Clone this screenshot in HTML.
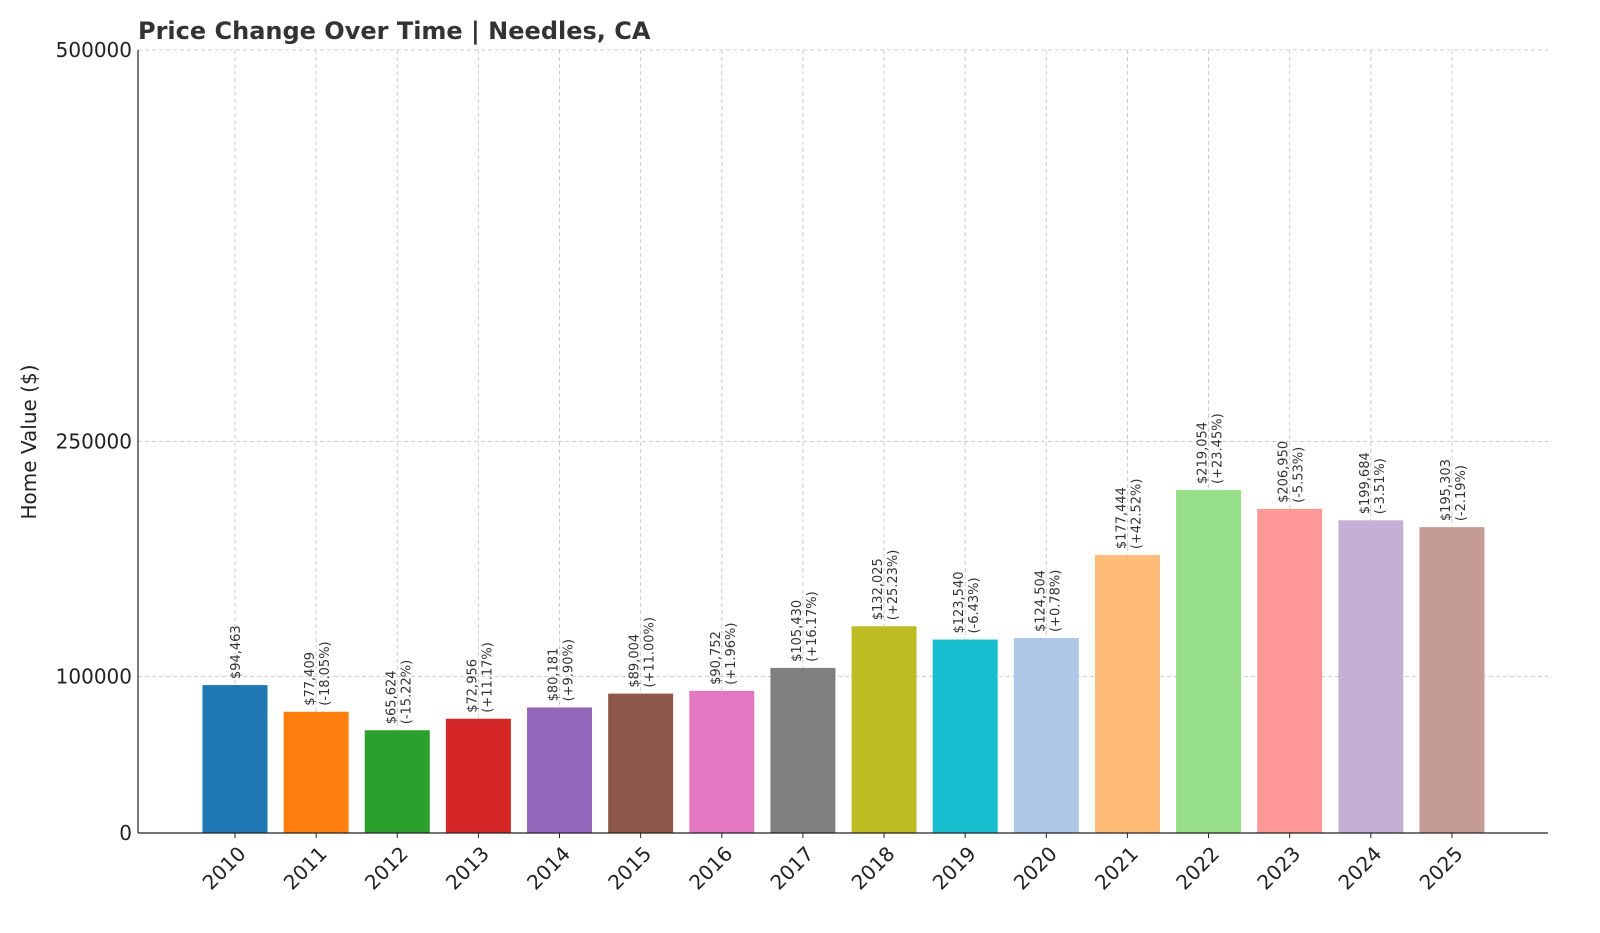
<!DOCTYPE html>
<html><head><meta charset="utf-8"><style>
body{margin:0;background:#fff;}
svg{display:block;font-family:"DejaVu Sans","Liberation Sans",sans-serif;}
</style></head><body>
<svg id="chart" width="1600" height="933" viewBox="0 0 1600 933" xmlns="http://www.w3.org/2000/svg">
<text x="138" y="39" font-size="24" font-weight="bold" fill="#333">Price Change Over Time | Needles, CA</text>
<text transform="translate(36,442) rotate(-90)" text-anchor="middle" font-size="20" fill="#222">Home Value ($)</text>
<g id="grid"></g>
<g id="bars"></g>
<g id="axes"></g>
</svg>
<script>
const years=["2010","2011","2012","2013","2014","2015","2016","2017","2018","2019","2020","2021","2022","2023","2024","2025"];
const values=[94463,77409,65624,72956,80181,89004,90752,105430,132025,123540,124504,177444,219054,206950,199684,195303];
const changes=["","-18.05%","-15.22%","+11.17%","+9.90%","+11.00%","+1.96%","+16.17%","+25.23%","-6.43%","+0.78%","+42.52%","+23.45%","-5.53%","-3.51%","-2.19%"];
const yTicks=[0,100000,250000,500000];
const colors=["#1f77b4","#ff7f0e","#2ca02c","#d62728","#9467bd","#8c564b","#e377c2","#7f7f7f","#bcbd22","#17becf","#aec7e8","#ffbb78","#98df8a","#ff9896","#c5b0d5","#c49c94"];
const NS="http://www.w3.org/2000/svg";
const L=138,R=1548,T=50,B=833;
function y(v){return B-(v/500000)*(B-T);}
function x(i){return 235+i*81.13;}
function mk(tag,attrs,parent){const e=document.createElementNS(NS,tag);for(const k in attrs)e.setAttribute(k,attrs[k]);parent.appendChild(e);return e;}
const grid=document.getElementById('grid'),bars=document.getElementById('bars'),axes=document.getElementById('axes');
yTicks.forEach(t=>{
  const g=mk('line',{x1:L,x2:R,y1:y(t),y2:y(t),stroke:'#ccc','stroke-dasharray':'4,3'},grid);
  
  
  const lb=mk('text',{x:L-6,y:y(t)+7,'text-anchor':'end','font-size':20,fill:'#222'},axes);
  lb.textContent=t;
  
  
});
years.forEach((yr,i)=>{
  const gl=mk('line',{x1:x(i),x2:x(i),y1:T,y2:B,stroke:'#ccc','stroke-dasharray':'4,3'},grid);
  
  
  const bw=65;
  const r=mk('rect',{x:x(i)-bw/2,y:y(values[i]),width:bw,height:B-y(values[i]),fill:colors[i]},bars);
  
  
  const top=y(values[i])-6;
  const t1=mk('text',{transform:`translate(${x(i)+(changes[i]?-2:5)},${top}) rotate(-90)`,'font-size':13,fill:'#333'},bars);
  t1.textContent='$'+values[i].toLocaleString('en-US');
  
  
  if(changes[i]){
    const t2=mk('text',{transform:`translate(${x(i)+13},${top}) rotate(-90)`,'font-size':13,fill:'#333'},bars);
    t2.textContent='('+changes[i]+')';
    
    
  }
  mk('line',{x1:x(i),x2:x(i),y1:B,y2:B+5,stroke:'#222'},axes);
  const xl=mk('text',{transform:`translate(${x(i)+12},${B+22}) rotate(-45)`,'text-anchor':'end','font-size':20,fill:'#222'},axes);
  xl.textContent=yr;
  
  
});
mk('line',{x1:L,x2:L,y1:T,y2:B,stroke:'#222','stroke-width':1.2},axes);
mk('line',{x1:L,x2:R,y1:B,y2:B,stroke:'#222','stroke-width':1.2},axes);
</script>
</body></html>
